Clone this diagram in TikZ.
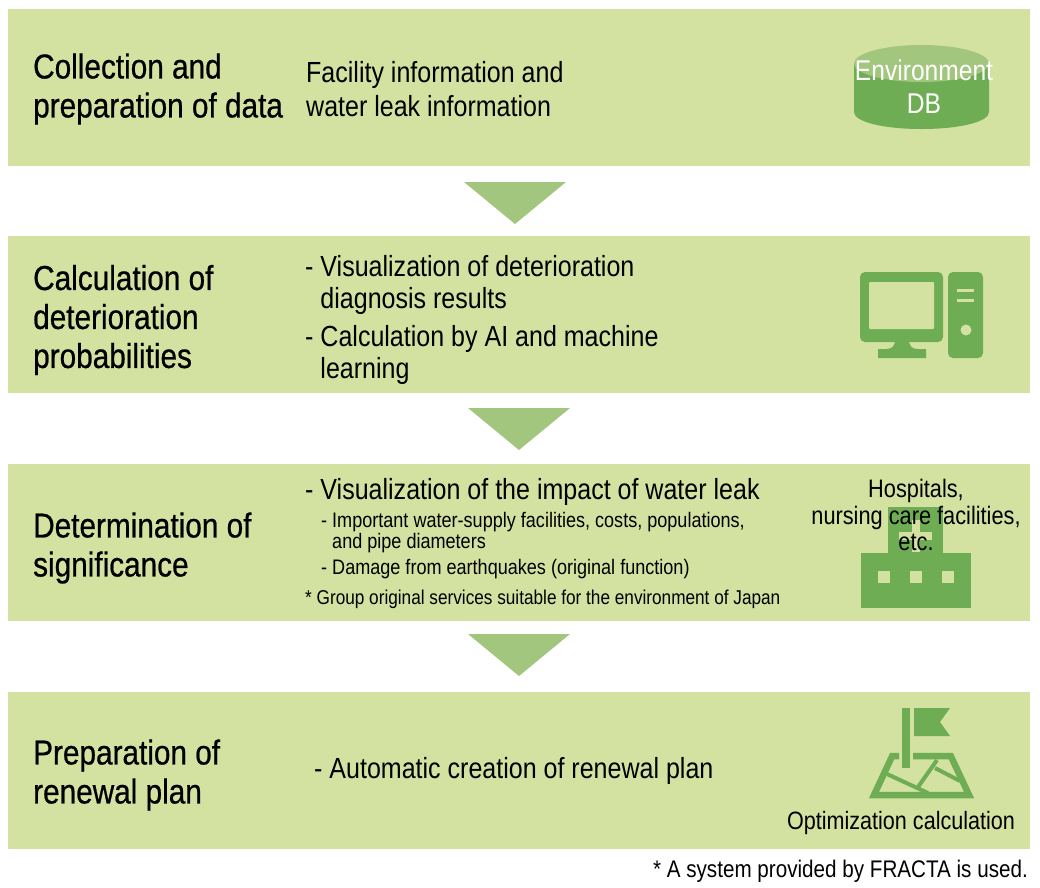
\documentclass[tikz,border=0pt]{standalone}
\usepackage{fontspec}
\setmainfont[FakeStretch=0.86]{Liberation Sans}
\usepackage{tikz}
\usetikzlibrary{positioning}
\usepackage{xcolor}
\definecolor{bandgreen}{RGB}{211, 225, 161}
\definecolor{arrowgreen}{RGB}{163, 198, 127}
\definecolor{icongreen}{RGB}{111, 173, 85}

\begin{document}
\begin{tikzpicture}[x=1pt, y=-1pt,
    band/.style={rectangle, fill=bandgreen, minimum width=1022pt, minimum height=157pt, inner sep=0pt},
    heading/.style={anchor=west, inner sep=0pt, align=left, font=\fontsize{34.6}{39}\selectfont\addfontfeature{FakeBold=0.6}},
    body/.style={anchor=west, inner sep=0pt, align=left, font=\fontsize{29.1}{34}\selectfont},
    bodytight/.style={body, font=\fontsize{29.1}{32.5}\selectfont},
    small/.style={anchor=west, inner sep=0pt, align=left, font=\fontsize{21}{21}\selectfont},
    iconlabel/.style={inner sep=0pt, align=center, font=\fontsize{25.3}{26.5}\selectfont},
    downarrow/.style={fill=arrowgreen},
    icon/.style={fill=icongreen},
]
\useasboundingbox (0,0) rectangle (1040,887);

\node[band] (collect)  at (519,87.5)  {};
\node[band] (calc)     at (519,314.5) {};
\node[band] (signif)   at (519,542.5) {};
\node[band] (renewal)  at (519,770.5) {};

% arrows
\fill[downarrow] (464,182) -- (566,182) -- (515,224) -- cycle;
\fill[downarrow] (468,408) -- (570,408) -- (519,450) -- cycle;
\fill[downarrow] (468,634) -- (570,634) -- (519,676) -- cycle;

% headings
\node[heading] (collecthead) at (33,89)  {Collection and\\preparation of data};
\node[heading] (calchead)    at (33,320) {Calculation of\\deterioration\\probabilities};
\node[heading] (signifhead)  at (33,548) {Determination of\\significance};
\node[heading] (renewalhead) at (33,775) {Preparation of\\renewal plan};

% body text
\node[body] (collecttext) at (306,89) {Facility information and\\water leak information};
\node[bodytight] (calcone)   at (305,285) {- Visualization of deterioration\\\phantom{- }diagnosis results};
\node[bodytight] (calctwo)   at (305,355) {- Calculation by AI and machine\\\phantom{- }learning};
\node[body] (signifone) at (305,492) {- Visualization of the impact of water leak};
\node[small] (signiftwo)   at (321,533) {- Important water-supply facilities, costs, populations,\\\phantom{- }and pipe diameters};
\node[small] (signifthree) at (321,569) {- Damage from earthquakes (original function)};
\node[small, font=\fontsize{20}{21}\selectfont] (signiffour)  at (305,599) {* Group original services suitable for the environment of Japan};
\node[body] (renewaltext) at (314,771) {- Automatic creation of renewal plan};

% database
\fill[icon] (854,63.5) -- (854,112) .. controls (854,122) and (884,129) .. (921.5,129) .. controls (959,129) and (989,122) .. (989,112) -- (989,63.5) -- cycle;
\fill[arrowgreen] (921.5,63.5) ellipse[x radius=67.5, y radius=18.5];
\node[iconlabel, text=white, font=\fontsize{28.6}{33}\selectfont] (dblabel) at (924,87) {Environment\\DB};

% computer
\fill[icon, rounded corners=5pt] (860,272) rectangle (943,342);
\fill[bandgreen, rounded corners=1pt] (869,282) rectangle (934,329);
\fill[icon] (895,340) -- (909,340) .. controls (909,346) and (912,349) .. (918,349) -- (926,349) -- (926,358) -- (878,358) -- (878,349) -- (886,349) .. controls (892,349) and (895,346) .. (895,340) -- cycle;
\fill[icon, rounded corners=5pt] (948,272) rectangle (983,358);
\fill[bandgreen] (957,288.5) rectangle (974,292);
\fill[bandgreen] (957,298.5) rectangle (974,302);
\fill[bandgreen] (966,330) circle[radius=5.5];

% hospital
\fill[icon] (888,507) rectangle (943,553);
\fill[icon] (861,553) rectangle (971,608);
\fill[bandgreen] (912,520) rectangle (920,552);
\fill[bandgreen] (899,532) rectangle (932,540);
\foreach \winx in {878,910,942}
    \fill[bandgreen] (\winx,571) rectangle ++(12,12);
\node[iconlabel] (hosplabel) at (916,515) {Hospitals,\\nursing care facilities,\\etc.};

% flag and map
\fill[icon] (902,708) rectangle (910,768);
\fill[icon] (914,708) -- (950,708) -- (940,722) -- (950,736) -- (914,736) -- cycle;
\draw[icongreen, line width=6.5pt] (899,756) -- (892.2,756) -- (874,795) -- (969,795) -- (950.8,756) -- (913,756);
\draw[icongreen, line width=4pt] (887,774) -- (928,793);
\draw[icongreen, line width=4pt] (918,787) -- (937,760);
\draw[icongreen, line width=4pt] (935,768) -- (960,781);
\node[iconlabel, font=\fontsize{25.1}{30}\selectfont] (optlabel) at (901,823) {Optimization calculation};

% footnote
\node[inner sep=0pt, anchor=east, font=\fontsize{24}{26}\selectfont] (footnote) at (1028,871) {* A system provided by FRACTA is used.};

\end{tikzpicture}
\end{document}
